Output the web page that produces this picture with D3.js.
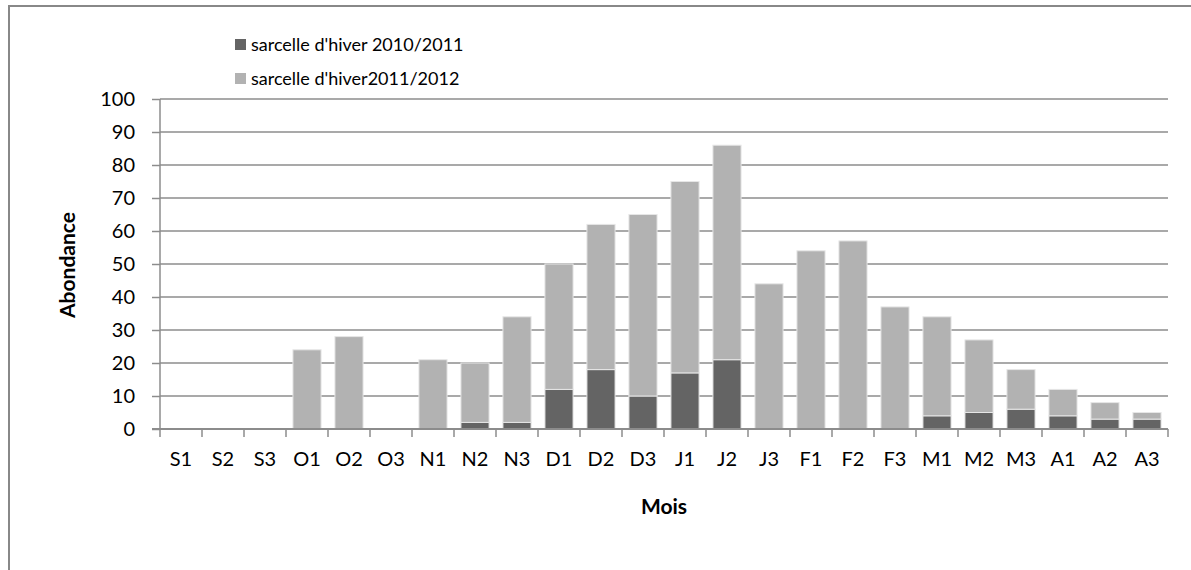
<!DOCTYPE html>
<html><head><meta charset="utf-8">
<script src="https://cdn.jsdelivr.net/npm/d3@7"></script>
<style>body{margin:0;background:#fff}svg{display:block;font-family:Lato,"Open Sans",sans-serif}</style>
</head><body><svg id="c" width="1191" height="570"></svg>
<script>
const categories = ["S1","S2","S3","O1","O2","O3","N1","N2","N3","D1","D2","D3","J1","J2","J3","F1","F2","F3","M1","M2","M3","A1","A2","A3"];
const series2010 = [0,0,0,0,0,0,0,2,2,12,18,10,17,21,0,0,0,0,4,5,6,4,3,3];
const series2011 = [0,0,0,24,28,0,21,18,32,38,44,55,58,65,44,54,57,37,30,22,12,8,5,2];
const seriesNames = ["sarcelle d'hiver 2010/2011","sarcelle d'hiver2011/2012"];
const yTicks = [0,10,20,30,40,50,60,70,80,90,100];
const colors = ["#646464","#b2b2b2"];

const svg = d3.select("#c");
svg.append("rect").attr("x",9).attr("y",6).attr("width",1200).attr("height",600)
  .attr("fill","#fff").attr("stroke","#888").attr("stroke-width",2);

const x = d3.scaleBand().domain(categories).range([160,1168]).paddingInner(0.33).paddingOuter(0.165);
const y = d3.scaleLinear().domain([0,100]).range([429,99]);

svg.append("g").selectAll("line").data(yTicks.filter(d=>d>0)).join("line")
  .attr("x1",160).attr("x2",1168).attr("y1",d=>y(d)).attr("y2",d=>y(d))
  .attr("stroke","#8c8c8c").attr("stroke-width",1.5);

const data = categories.map((c,i)=>({cat:c, a:series2010[i], b:series2011[i]}));
const stack = d3.stack().keys(["a","b"])(data);
svg.append("g").selectAll("g").data(stack).join("g").attr("fill",(d,i)=>colors[i])
  .selectAll("rect").data(d=>d.filter(p=>p[1]-p[0]>0)).join("rect")
  .attr("x",d=>x(d.data.cat)).attr("width",x.bandwidth())
  .attr("y",d=>y(d[1])).attr("height",d=>y(d[0])-y(d[1]))
  .attr("stroke","#e6e6e6").attr("stroke-width",1);

const yAxis = d3.axisLeft(y).tickValues(yTicks).tickSize(8).tickPadding(17);
const gy = svg.append("g").attr("transform","translate(160,0)").call(yAxis);
gy.selectAll("path,line").attr("stroke","#8c8c8c").attr("stroke-width",1.5);
gy.select(".domain").attr("d","M0,99V429");
gy.selectAll("text").attr("font-size",20).attr("fill","#000").attr("font-family","Lato");

const gx = svg.append("g").attr("transform","translate(0,429)");
gx.append("line").attr("x1",152).attr("x2",1168).attr("stroke","#8c8c8c").attr("stroke-width",2);
const bounds = d3.range(categories.length+1).map(i=>160+i*x.step());
gx.selectAll("line.t").data(bounds).join("line").attr("class","t")
  .attr("x1",d=>d).attr("x2",d=>d).attr("y1",0).attr("y2",8)
  .attr("stroke","#8c8c8c").attr("stroke-width",1.5);
gx.selectAll("text").data(categories).join("text")
  .attr("x",d=>x(d)+x.bandwidth()/2).attr("y",37).attr("text-anchor","middle")
  .attr("font-size",20).attr("fill","#000").text(d=>d);

svg.append("text").attr("x",664).attr("y",514).attr("text-anchor","middle")
  .attr("font-size",21).attr("font-weight","bold").text("Mois");
svg.append("text").attr("transform","translate(75,265) rotate(-90)").attr("text-anchor","middle")
  .attr("font-size",21).attr("font-weight","bold").text("Abondance");

const lg = svg.append("g");
seriesNames.forEach((n,i)=>{
  const yy = 39 + i*34;
  lg.append("rect").attr("x",235).attr("y",yy).attr("width",11).attr("height",11).attr("fill",colors[i]);
  lg.append("text").attr("x",251).attr("y",yy+12).attr("font-size",18).text(n);
});
</script></body></html>
